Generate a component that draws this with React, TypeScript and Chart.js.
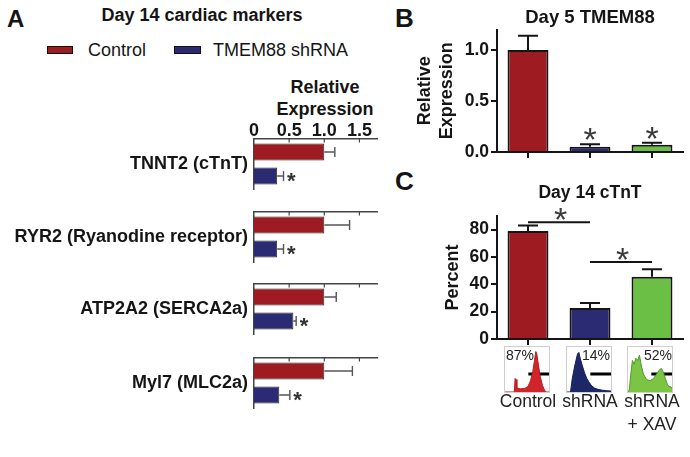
import React, { useEffect, useRef } from 'react';
import { Chart, registerables } from 'chart.js';

Chart.register(...registerables);

const FONT = "'Liberation Sans', Arial, Helvetica, sans-serif";

// ---------- Panel A: Day 14 cardiac markers ----------
const genes = ['TNNT2 (cTnT)', 'RYR2 (Ryanodine receptor)', 'ATP2A2 (SERCA2a)', 'Myl7 (MLC2a)'];
const geneControl = [1.0, 1.0, 1.0, 1.0];
const geneControlErr = [0.15, 0.36, 0.17, 0.4];
const geneShrna = [0.33, 0.33, 0.56, 0.36];
const geneShrnaErr = [0.09, 0.09, 0.04, 0.15];
const geneShrnaSig = [true, true, true, true];
const geneTicks = [0, 0.5, 1.0, 1.5];

// ---------- Panel B: Day 5 TMEM88 ----------
const groups = ['Control', 'shRNA', ['shRNA', '+ XAV']];
const day5Values = [1.0, 0.052, 0.07];
const day5Err = [0.14, 0.023, 0.02];
const day5Sig = [false, true, true];

// ---------- Panel C: Day 14 cTnT ----------
const ctntValues = [79, 22.7, 45.5];
const ctntErr = [4, 3.7, 5.5];
const ctntSigFrom = [0, 1];
const ctntSigTo = [1, 2];
const ctntSigLevel = [85.5, 56.3];

// ---------- Flow histogram insets ----------
const histControlX = [0, 0.21, 0.23, 0.25, 0.27, 0.35, 0.45, 0.52, 0.58, 0.63, 0.67, 0.7, 0.72, 0.76, 0.8, 0.85, 0.9, 0.94, 1];
const histControlY = [0, 0, 0.3, 0.28, 0.08, 0.07, 0.08, 0.12, 0.25, 0.45, 0.7, 0.9, 0.86, 0.6, 0.35, 0.15, 0.04, 0, 0];
const histShrnaX = [0, 0.08, 0.12, 0.18, 0.24, 0.27, 0.3, 0.35, 0.4, 0.45, 0.5, 0.55, 0.62, 0.7, 0.8, 0.9, 1];
const histShrnaY = [0, 0, 0.3, 0.6, 0.85, 0.88, 0.75, 0.58, 0.42, 0.3, 0.22, 0.15, 0.09, 0.06, 0.04, 0.03, 0.02];
const histXavX = [0, 0.03, 0.07, 0.1, 0.14, 0.18, 0.22, 0.26, 0.3, 0.35, 0.42, 0.5, 0.58, 0.65, 0.72, 0.76, 0.8, 0.85, 0.9, 0.95, 1];
const histXavY = [0, 0.05, 0.45, 0.7, 0.62, 0.75, 0.7, 0.82, 0.6, 0.4, 0.28, 0.25, 0.3, 0.4, 0.5, 0.52, 0.45, 0.3, 0.15, 0.12, 0.1];
const histPercent = ['87%', '14%', '52%'];
const gateStart = 0.53;
const gateEnd = 1.0;
const gateLevel = 0.4;

const RED = '#9E1C21';
const BLUE = '#2A2B72';
const GREEN = '#6CBF45';
const HIST_RED = '#D0262B';
const HIST_BLUE = '#1D2767';
const HIST_GREEN = '#7CC444';
const INK = '#151515';

function drawGlyph(ctx: CanvasRenderingContext2D, text: string, cx: number, cy: number, font: string, color: string) {
  ctx.save();
  ctx.font = font;
  ctx.fillStyle = color;
  ctx.textAlign = 'left';
  ctx.textBaseline = 'alphabetic';
  const m = ctx.measureText(text);
  const x = cx - (m.actualBoundingBoxRight - m.actualBoundingBoxLeft) / 2;
  const y = cy + (m.actualBoundingBoxAscent - m.actualBoundingBoxDescent) / 2;
  ctx.fillText(text, x, y);
  ctx.restore();
}

// horizontal error bars + stars + inner ticks for panel A
const panelAPlugin = {
  id: 'panelA',
  afterDatasetsDraw(chart: any) {
    const ctx = chart.ctx as CanvasRenderingContext2D;
    const xs = chart.scales.x;
    chart.data.datasets.forEach((ds: any, di: number) => {
      const meta = chart.getDatasetMeta(di);
      meta.data.forEach((bar: any, j: number) => {
        const v = ds.data[j];
        const e = ds.errs[j];
        const x0 = xs.getPixelForValue(v);
        const x1 = xs.getPixelForValue(v + e);
        const y = bar.y;
        ctx.save();
        ctx.strokeStyle = '#555';
        ctx.lineWidth = 1.4;
        ctx.beginPath();
        ctx.moveTo(x0, y);
        ctx.lineTo(x1, y);
        ctx.moveTo(x1, y - 5);
        ctx.lineTo(x1, y + 5);
        ctx.stroke();
        ctx.restore();
        if (ds.sig && ds.sig[j]) {
          drawGlyph(ctx, '*', x1 + 8, y + 1, `bold 22px ${FONT}`, '#333');
        }
      });
    });
    // inner tick marks on the top axis
    const top = chart.chartArea.top;
    ctx.save();
    ctx.strokeStyle = '#444';
    ctx.lineWidth = 1.2;
    geneTicks.forEach((t) => {
      if (t <= 0) return;
      const px = xs.getPixelForValue(t);
      ctx.beginPath();
      ctx.moveTo(px, top);
      ctx.lineTo(px, top + 3.5);
      ctx.stroke();
    });
    ctx.restore();
  },
};

// vertical error bars + stars + short x tick marks for panels B and C
const vErrPlugin = {
  id: 'vErr',
  afterDatasetsDraw(chart: any) {
    const ctx = chart.ctx as CanvasRenderingContext2D;
    const ys = chart.scales.y;
    const xs = chart.scales.x;
    chart.data.datasets.forEach((ds: any, di: number) => {
      if (!ds.errs) return;
      const meta = chart.getDatasetMeta(di);
      meta.data.forEach((bar: any, j: number) => {
        const v = ds.data[j];
        const y0 = ys.getPixelForValue(v);
        const y1 = ys.getPixelForValue(v + ds.errs[j]);
        const x = bar.x;
        ctx.save();
        ctx.strokeStyle = INK;
        ctx.lineWidth = 2;
        ctx.beginPath();
        ctx.moveTo(x, y0);
        ctx.lineTo(x, y1);
        ctx.moveTo(x - 10, y1);
        ctx.lineTo(x + 10, y1);
        ctx.stroke();
        ctx.restore();
        if (ds.sig && ds.sig[j]) {
          drawGlyph(ctx, '*', x, y1 - 10, `34px ${FONT}`, '#3a3a3a');
        }
      });
    });
    // short tick marks below the x axis at category centres
    const bottom = chart.chartArea.bottom;
    ctx.save();
    ctx.strokeStyle = INK;
    ctx.lineWidth = 2;
    xs.ticks.forEach((_t: any, i: number) => {
      const px = xs.getPixelForTick(i);
      ctx.beginPath();
      ctx.moveTo(px, bottom);
      ctx.lineTo(px, bottom + 6);
      ctx.stroke();
    });
    ctx.restore();
  },
};

// significance brackets for panel C
const sigPlugin = {
  id: 'sigLines',
  afterDatasetsDraw(chart: any) {
    const ctx = chart.ctx as CanvasRenderingContext2D;
    const xs = chart.scales.x;
    const ys = chart.scales.y;
    for (let k = 0; k < ctntSigFrom.length; k++) {
      const xa = xs.getPixelForValue(ctntSigFrom[k]);
      const xb = xs.getPixelForValue(ctntSigTo[k]);
      const y = ys.getPixelForValue(ctntSigLevel[k]);
      ctx.save();
      ctx.strokeStyle = INK;
      ctx.lineWidth = 2;
      ctx.beginPath();
      ctx.moveTo(xa, y);
      ctx.lineTo(xb, y);
      ctx.stroke();
      ctx.restore();
      drawGlyph(ctx, '*', (xa + xb) / 2 + 1.5, y - 8.5, `34px ${FONT}`, '#3a3a3a');
    }
  },
};

function ChartBox(props: { left: number; top: number; width: number; height: number; make: () => any; style?: any }) {
  const ref = useRef<HTMLCanvasElement>(null);
  useEffect(() => {
    const chart = new Chart(ref.current as HTMLCanvasElement, props.make());
    return () => chart.destroy();
  }, []);
  return (
    <div style={{ position: 'absolute', left: props.left, top: props.top, width: props.width, height: props.height, ...(props.style || {}) }}>
      <canvas ref={ref} width={props.width} height={props.height} style={{ display: 'block', width: props.width, height: props.height }} />
    </div>
  );
}

function makeGeneChart(i: number) {
  return () => ({
    type: 'bar',
    data: {
      labels: [genes[i]],
      datasets: [
        {
          label: 'Control',
          data: [geneControl[i]],
          errs: [geneControlErr[i]],
          backgroundColor: RED,
          borderColor: '#2a2a2a',
          borderWidth: 1,
          categoryPercentage: 0.96,
          barPercentage: 0.71,
        },
        {
          label: 'TMEM88 shRNA',
          data: [geneShrna[i]],
          errs: [geneShrnaErr[i]],
          sig: [geneShrnaSig[i]],
          backgroundColor: BLUE,
          borderColor: '#2a2a2a',
          borderWidth: 1,
          categoryPercentage: 0.96,
          barPercentage: 0.71,
        },
      ],
    },
    options: {
      indexAxis: 'y',
      animation: false,
      responsive: false,
      layout: { padding: { left: 0, right: 13, top: 0, bottom: 4 } },
      plugins: { legend: { display: false }, tooltip: { enabled: false }, title: { display: false } },
      scales: {
        x: {
          position: 'top',
          min: 0,
          max: 1.75,
          afterBuildTicks: (s: any) => {
            s.ticks = geneTicks.map((v) => ({ value: v }));
          },
          afterFit: (s: any) => {
            s.height = 20;
            s.paddingLeft = 0;
            s.paddingRight = 0;
          },
          ticks: {
            display: i === 0,
            autoSkip: false,
            maxRotation: 0,
            padding: -3,
            color: INK,
            font: { family: FONT, size: 18, weight: 'bold' },
            callback: (v: any) => (v === 0 ? '0' : Number(v).toFixed(1)),
          },
          grid: { display: false, drawTicks: false },
          border: { display: true, color: '#444', width: 1.5 },
        },
        y: {
          afterFit: (s: any) => {
            s.width = 254;
            s.paddingTop = 0;
            s.paddingBottom = 0;
          },
          ticks: { padding: 6, color: INK, font: { family: FONT, size: 18, weight: 'bold' } },
          grid: { display: false, drawTicks: false },
          border: { display: true, color: '#444', width: 1.5 },
        },
      },
    },
    plugins: [panelAPlugin],
  });
}

function makeBarChart(kind: 'B' | 'C') {
  return () => {
    const isB = kind === 'B';
    return {
      type: 'bar',
      data: {
        labels: groups,
        datasets: [
          {
            data: isB ? day5Values : ctntValues,
            errs: isB ? day5Err : ctntErr,
            sig: isB ? day5Sig : [false, false, false],
            backgroundColor: [RED, BLUE, GREEN],
            borderColor: INK,
            borderWidth: 2,
            categoryPercentage: 1,
            barPercentage: 0.66,
          },
        ],
      },
      options: {
        animation: false,
        responsive: false,
        layout: { padding: { left: 0, right: 7, top: 0, bottom: 0 } },
        plugins: {
          legend: { display: false },
          tooltip: { enabled: false },
          title: {
            display: true,
            fullSize: false,
            text: isB ? 'Day 5 TMEM88' : 'Day 14 cTnT',
            color: INK,
            font: { family: FONT, size: isB ? 18.5 : 17.5, weight: 'bold', lineHeight: 1.2 },
            padding: isB ? { top: 7, bottom: 0.3 } : { top: 12.5, bottom: 12.5 },
          },
        },
        scales: {
          x: {
            afterFit: (s: any) => {
              s.height = isB ? 18 : 118;
              s.paddingLeft = 0;
              s.paddingRight = 0;
            },
            ticks: {
              display: !isB,
              autoSkip: false,
              maxRotation: 0,
              padding: 0,
              color: '#222',
              font: { family: FONT, size: 17.5, lineHeight: '23.5px' },
            },
            grid: {
              offset: false,
              drawOnChartArea: false,
              drawTicks: true,
              tickLength: 51,
              tickColor: 'rgba(0,0,0,0)',
              color: 'rgba(0,0,0,0)',
            },
            border: { color: INK, width: 2 },
          },
          y: {
            min: 0,
            max: isB ? 1.2 : 90,
            afterFit: (s: any) => {
              s.width = 107;
            },
            ticks: {
              stepSize: isB ? 0.5 : 20,
              includeBounds: false,
              padding: 2,
              color: INK,
              font: { family: FONT, size: 17.5, weight: 'bold' },
              callback: (v: any) => (isB ? Number(v).toFixed(1) : String(v)),
            },
            grid: { drawOnChartArea: false, drawTicks: true, tickLength: 6, color: INK, lineWidth: 2 },
            border: { color: INK, width: 2 },
            title: {
              display: true,
              text: isB ? ['Relative', 'Expression'] : 'Percent',
              color: INK,
              font: { family: FONT, size: 18, weight: 'bold', lineHeight: '22px' },
              padding: { top: isB ? 24 : 52, bottom: 0 },
            },
          },
        },
      },
      plugins: isB ? [vErrPlugin] : [vErrPlugin, sigPlugin],
    };
  };
}

function makeHist(xs: number[], ys: number[], fillColor: string, lineColor: string) {
  return () => ({
    type: 'line',
    data: {
      datasets: [
        {
          data: xs.map((x, i) => ({ x, y: ys[i] })),
          fill: 'origin',
          backgroundColor: fillColor,
          borderColor: lineColor,
          borderWidth: 1,
          pointRadius: 0,
          tension: 0,
        },
        {
          data: [
            { x: gateStart, y: gateLevel },
            { x: gateEnd, y: gateLevel },
          ],
          fill: false,
          borderColor: '#000',
          borderWidth: 3,
          pointRadius: 0,
        },
      ],
    },
    options: {
      animation: false,
      responsive: false,
      layout: { padding: 0 },
      plugins: { legend: { display: false }, tooltip: { enabled: false } },
      scales: {
        x: { type: 'linear', min: 0, max: 1, display: false },
        y: { min: 0, max: 1, display: false },
      },
    },
  });
}

const txt = (s: any) => ({ position: 'absolute', fontFamily: FONT, color: INK, whiteSpace: 'nowrap', lineHeight: 1, ...s });

export default function App() {
  const geneTops = [139, 212, 284, 358];
  const histLefts = [505, 567, 628];
  const histData = [
    [histControlX, histControlY, HIST_RED, '#B81E24'],
    [histShrnaX, histShrnaY, HIST_BLUE, '#161D55'],
    [histXavX, histXavY, HIST_GREEN, '#4E9A2E'],
  ] as any[];
  return (
    <div style={{ position: 'absolute', left: 0, top: 0, width: 690, height: 457, background: '#fff', overflow: 'hidden' }}>
      {/* Panel letters */}
      <div style={txt({ left: 7, top: 6.5, fontSize: 24, fontWeight: 'bold' })}>A</div>
      <div style={txt({ left: 395, top: 4.5, fontSize: 26, fontWeight: 'bold' })}>B</div>
      <div style={txt({ left: 395, top: 167.5, fontSize: 26, fontWeight: 'bold' })}>C</div>

      {/* Panel A title and legend */}
      <div style={txt({ left: 52, width: 300, top: 6, fontSize: 18, fontWeight: 'bold', textAlign: 'center' })}>Day 14 cardiac markers</div>
      <div style={{ position: 'absolute', left: 47, top: 46, width: 24, height: 6, background: RED, border: '1.5px solid #111' }} />
      <div style={txt({ left: 88, top: 41, fontSize: 18 })}>Control</div>
      <div style={{ position: 'absolute', left: 174, top: 46, width: 25, height: 6, background: BLUE, border: '1.5px solid #111' }} />
      <div style={txt({ left: 213, top: 41, fontSize: 18 })}>TMEM88 shRNA</div>
      <div style={txt({ left: 245, width: 160, top: 76, fontSize: 18, fontWeight: 'bold', textAlign: 'center', lineHeight: '22px' })}>
        Relative
        <br />
        Expression
      </div>

      {genes.map((g, i) => (
        <ChartBox key={g} left={0} top={geneTops[i] - 20} width={390} height={74} make={makeGeneChart(i)} />
      ))}

      <ChartBox left={390} top={0} width={300} height={170} make={makeBarChart('B')} />
      <ChartBox left={390} top={170} width={300} height={287} make={makeBarChart('C')} />

      {histData.map((h, i) => (
        <ChartBox
          key={i}
          left={histLefts[i]}
          top={347}
          width={44}
          height={45}
          make={makeHist(h[0], h[1], h[2], h[3])}
          style={{ outline: '1px solid #cfcfcf' }}
        />
      ))}
      <div style={txt({ left: 506, top: 348, fontSize: 14, color: '#222' })}>{histPercent[0]}</div>
      <div style={txt({ left: 561, width: 49, top: 348, fontSize: 14, color: '#222', textAlign: 'right' })}>{histPercent[1]}</div>
      <div style={txt({ left: 622, width: 50, top: 348, fontSize: 14, color: '#222', textAlign: 'right' })}>{histPercent[2]}</div>
    </div>
  );
}
